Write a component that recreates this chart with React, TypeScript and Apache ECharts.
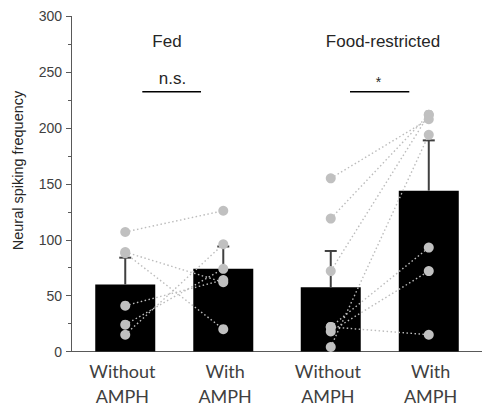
import React, { useEffect, useRef } from "react";
import * as echarts from "echarts";

const categories = ["Without\nAMPH", "With\nAMPH", "Without\nAMPH", "With\nAMPH"];
const barMeans = [60, 74, 57.5, 144];
const errorTops = [84, 94, 90, 189];
const fedWithout = [107, 89, 88, 41, 24, 15];
const fedWith = [126, 62, 20, 64, 74, 96];
const frWithout = [155, 119, 72, 4, 22, 18, 22];
const frWith = [208, 212, 212, 194, 93, 72, 15];
const groupLabels = ["Fed", "Food-restricted"];
const sigLabels = ["n.s.", "*"];
const yMin = 0;
const yMax = 300;
const yInterval = 50;

const ARIAL = "'Liberation Sans', Arial, sans-serif";

export default function App() {
  const ref = useRef<HTMLDivElement>(null);
  useEffect(() => {
    if (!ref.current) return;
    document.body.style.margin = "0";
    const chart = echarts.init(ref.current, undefined, { renderer: "svg" });
    const pos = (i: number) => i + 0.5 + (i % 2 === 0 ? 0.028 : -0.018);

    const pairSeries: any[] = [];
    const groups = [
      [fedWithout, fedWith],
      [frWithout, frWith],
    ];
    groups.forEach((g, gi) => {
      g[0].forEach((v, k) => {
        pairSeries.push({
          type: "line",
          xAxisIndex: 1,
          data: [
            [pos(gi * 2), v],
            [pos(gi * 2 + 1), g[1][k]],
          ],
          symbol: "none",
          lineStyle: { color: "#bcbcbc", width: 1.4, type: [1.5, 2.5] },
          z: 3,
          silent: true,
        });
      });
    });

    const dots: number[][] = [];
    groups.forEach((g, gi) => {
      g[0].forEach((v) => dots.push([pos(gi * 2), v]));
      g[1].forEach((v) => dots.push([pos(gi * 2 + 1), v]));
    });

    const option: any = {
      animation: false,
      grid: { left: 71, right: -6, top: 16.4, bottom: 54.7 },
      xAxis: [
        {
          type: "category",
          data: categories,
          boundaryGap: true,
          axisLine: { lineStyle: { color: "#595959", width: 1 } },
          axisTick: { alignWithLabel: true, length: 5, lineStyle: { color: "#595959" } },
          axisLabel: {
            color: "#404040",
            fontFamily: "Lato, sans-serif",
            fontSize: 18,
            lineHeight: 24.5,
            margin: 7.5,
          },
        },
        { type: "value", min: 0, max: 4, show: false },
      ],
      yAxis: {
        type: "value",
        min: yMin,
        max: yMax,
        interval: yInterval,
        axisLine: { show: true, lineStyle: { color: "#595959", width: 1 } },
        axisTick: { show: true, length: 5, lineStyle: { color: "#595959" } },
        minorTick: { show: true, splitNumber: 2, length: 3, lineStyle: { color: "#595959" } },
        splitLine: { show: false },
        axisLabel: { color: "#404040", fontFamily: ARIAL, fontSize: 14, margin: 9 },
      },
      series: [
        {
          type: "bar",
          xAxisIndex: 1,
          barWidth: 60,
          data: barMeans.map((m, i) => [pos(i), m]),
          itemStyle: { color: "#000000" },
          z: 2,
        },
        {
          type: "custom",
          xAxisIndex: 1,
          data: barMeans.map((m, i) => [pos(i), m, errorTops[i]]),
          encode: { x: 0, y: [1, 2] },
          z: 2.5,
          renderItem: (params: any, api: any) => {
            const x = api.value(0);
            const p1 = api.coord([x, api.value(1)]);
            const p2 = api.coord([x, api.value(2)]);
            const st = { stroke: "#404040", lineWidth: 2 };
            return {
              type: "group",
              children: [
                { type: "line", shape: { x1: p1[0], y1: p1[1], x2: p2[0], y2: p2[1] }, style: st },
                { type: "line", shape: { x1: p2[0] - 6, y1: p2[1], x2: p2[0] + 6, y2: p2[1] }, style: st },
              ],
            };
          },
        },
        ...pairSeries,
        {
          type: "scatter",
          xAxisIndex: 1,
          data: dots,
          symbolSize: 10,
          itemStyle: { color: "#c0c0c0", opacity: 1 },
          z: 4,
        },
      ],
      graphic: [
        {
          type: "text",
          x: 18,
          y: 170.5,
          rotation: Math.PI / 2,
          style: {
            text: "Neural spiking frequency",
            font: `14.5px ${ARIAL}`,
            fill: "#262626",
            align: "center",
            verticalAlign: "middle",
          },
        },
        {
          type: "text",
          x: 167,
          y: 41,
          style: { text: groupLabels[0], font: `17px ${ARIAL}`, fill: "#262626", align: "center", verticalAlign: "middle" },
        },
        {
          type: "text",
          x: 383,
          y: 41,
          style: { text: groupLabels[1], font: `17px ${ARIAL}`, fill: "#262626", align: "center", verticalAlign: "middle" },
        },
        {
          type: "text",
          x: 172.5,
          y: 78.5,
          style: { text: sigLabels[0], font: `17px ${ARIAL}`, fill: "#262626", align: "center", verticalAlign: "middle" },
        },
        {
          type: "text",
          x: 378.5,
          y: 81.5,
          style: { text: sigLabels[1], font: `14px ${ARIAL}`, fill: "#262626", align: "center", verticalAlign: "middle" },
        },
        {
          type: "line",
          shape: { x1: 142.3, y1: 91.7, x2: 201, y2: 91.7 },
          style: { stroke: "#000", lineWidth: 1.5 },
        },
        {
          type: "line",
          shape: { x1: 350, y1: 91.7, x2: 409.3, y2: 91.7 },
          style: { stroke: "#000", lineWidth: 1.5 },
        },
      ],
    };
    chart.setOption(option);
    return () => chart.dispose();
  }, []);
  return <div ref={ref} style={{ width: 482, height: 408 }} />;
}
